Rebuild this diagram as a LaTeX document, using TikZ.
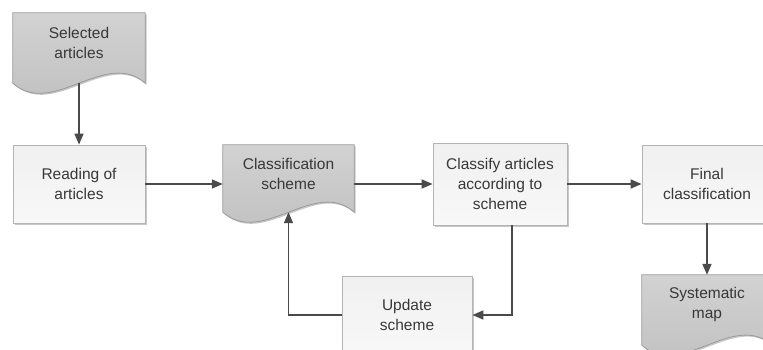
\documentclass[tikz,border=0pt]{standalone}
\usepackage{fontspec}
\setmainfont{Liberation Sans}
\usetikzlibrary{arrows.meta,calc,shadows}
\definecolor{arrc}{HTML}{4A4A4A}
\definecolor{txtc}{HTML}{383838}
\definecolor{boxline}{HTML}{B4B4B4}
\definecolor{boxtop}{HTML}{F0F0F0}
\definecolor{boxbot}{HTML}{F8F8F8}
\definecolor{doctop}{HTML}{D2D2D2}
\definecolor{docbot}{HTML}{BEBEBE}
\definecolor{docline}{HTML}{9A9A9A}
\tikzset{
  lbl/.style={text=txtc, align=center, font=\fontsize{15.5}{20}\selectfont, inner sep=0pt},
  stepbox/.style={lbl, draw=boxline, line width=0.8pt, top color=boxtop, bottom color=boxbot,
    minimum width=132pt, minimum height=78pt,
    drop shadow={shadow xshift=1.5pt,shadow yshift=-1.5pt,opacity=0.22,fill=black}},
  docframe/.style={draw=none, inner sep=0pt, minimum width=132pt},
  docfill/.style={draw=docline, line width=0.8pt, top color=doctop, bottom color=docbot,
    drop shadow={shadow xshift=1.5pt,shadow yshift=-1.5pt,opacity=0.22,fill=black}},
  arr/.style={draw=arrc, line width=1.6pt, -{Triangle[length=11pt,width=9pt]}}
}
\newcommand\docwave[1]{%
  \path[docfill] (#1.north west) -- (#1.north east) -- (#1.south east)
    .. controls ($(#1.south east)!0.3!(#1.south west)+(0,-35)$)
       and ($(#1.south west)!0.3!(#1.south east)+(0,35)$) .. (#1.south west) -- cycle;}
\begin{document}
\begin{tikzpicture}[x=1pt,y=-1pt]
\useasboundingbox (0,0) rectangle (763,349);
\clip (0,0) rectangle (763,349);
% document-shaped frames
\node[docframe, minimum height=70pt] (sel) at (79,48) {};
\node[docframe, minimum width=131pt, minimum height=67pt] (cs) at (288.5,178.5) {};
\node[docframe, minimum width=130pt, minimum height=70pt] (sys) at (707,310) {};
\docwave{sel}
\docwave{cs}
\docwave{sys}
\node[lbl] (selT) at (79,43) {Selected\\articles};
\node[lbl] (csT) at (288.5,174) {Classification\\scheme};
\node[lbl] (sysT) at (707,304) {Systematic\\map};
% process boxes
\node[stepbox] (read) at (79,184) {Reading of\\articles};
\node[stepbox, minimum width=134pt, minimum height=82pt] (cls) at (500,184) {Classify articles\\according to\\scheme};
\node[stepbox, minimum width=130pt] (fin) at (707,184) {Final\\classification};
\node[stepbox, minimum width=130pt] (upd) at (407,315) {Update\\scheme};
% connectors
\draw[arr] (sel.south) -- (read.north);
\draw[arr] (read.east) -- (read.east -| cs.west);
\draw[arr] (cs.east |- read.east) -- (cls.west |- read.east);
\draw[arr] (cls.east) -- (fin.west);
\draw[arr] (fin.south) -- (sys.north);
\draw[arr] ([xshift=12pt]cls.south) |- (upd.east);
\draw[arr] (upd.west) -| (cs.south);
\end{tikzpicture}
\end{document}
